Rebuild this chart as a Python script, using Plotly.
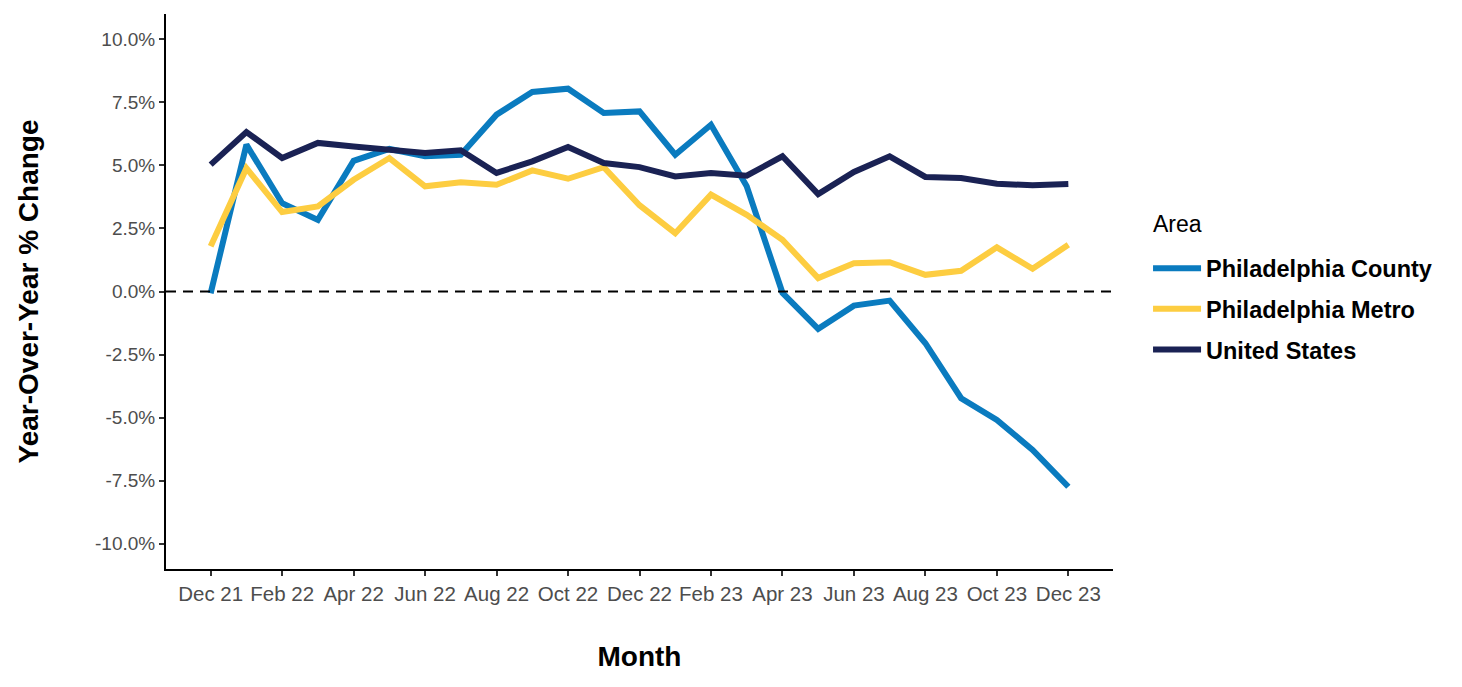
import plotly.graph_objects as go

months = ["Dec 21", "Jan 22", "Feb 22", "Mar 22", "Apr 22", "May 22", "Jun 22", "Jul 22",
          "Aug 22", "Sep 22", "Oct 22", "Nov 22", "Dec 22", "Jan 23", "Feb 23", "Mar 23",
          "Apr 23", "May 23", "Jun 23", "Jul 23", "Aug 23", "Sep 23", "Oct 23", "Nov 23", "Dec 23"]

philly_county = [-0.07, 5.82, 3.50, 2.84, 5.18, 5.65, 5.36, 5.42, 7.01, 7.91, 8.04, 7.08, 7.14,
                 5.42, 6.61, 4.17, -0.05, -1.48, -0.56, -0.36, -2.05, -4.23, -5.09, -6.28, -7.74]
philly_metro = [1.79, 4.89, 3.15, 3.37, 4.43, 5.29, 4.17, 4.33, 4.23, 4.80, 4.47, 4.93, 3.42,
                2.31, 3.84, 3.04, 2.05, 0.53, 1.12, 1.16, 0.66, 0.82, 1.75, 0.90, 1.85]
united_states = [5.03, 6.32, 5.29, 5.89, 5.75, 5.62, 5.49, 5.60, 4.70, 5.16, 5.73, 5.09, 4.93,
                 4.56, 4.70, 4.59, 5.36, 3.86, 4.74, 5.36, 4.54, 4.50, 4.27, 4.21, 4.26]

series_names = ["Philadelphia County", "Philadelphia Metro", "United States"]
series_values = [philly_county, philly_metro, united_states]
series_colors = ["#0a7bbf", "#fdcd41", "#1a2254"]

y_ticks = [-10, -7.5, -5, -2.5, 0, 2.5, 5, 7.5, 10]
y_tick_labels = ["-10.0%", "-7.5%", "-5.0%", "-2.5%", "0.0%", "2.5%", "5.0%", "7.5%", "10.0%"]

x_idx = list(range(len(months)))

fig = go.Figure()
for i, (name, vals, col) in enumerate(zip(series_names, series_values, series_colors)):
    fig.add_trace(go.Scatter(
        x=x_idx, y=vals, mode="lines", name=name, legendgroup=f"g{i}",
        line=dict(color=col, width=6),
    ))

fig.add_hline(y=0, line=dict(color="black", width=2, dash="10px,7px"))

fig.add_annotation(
    text="Area", xref="paper", yref="paper", x=1.04, y=0.621,
    xanchor="left", yanchor="middle", showarrow=False,
    font=dict(size=23, color="black"),
)

fig.update_layout(
    width=1462, height=687,
    paper_bgcolor="white", plot_bgcolor="white",
    margin=dict(l=158, r=357, t=6, b=126),
    font=dict(family="Liberation Sans, Arial, sans-serif", color="black"),
    legend=dict(
        font=dict(size=23.5, color="black", weight="bold"),
        x=1.037, xanchor="left", y=0.581, yanchor="top",
        tracegroupgap=7, itemwidth=48,
        bgcolor="rgba(0,0,0,0)",
    ),
    showlegend=True,
)

fig.update_xaxes(
    range=[-1.25, 25.25],
    tickvals=x_idx[::2], ticktext=months[::2],
    showgrid=False, zeroline=False,
    showline=True, linecolor="black", linewidth=2,
    ticks="outside", ticklen=5, tickwidth=1.5, tickcolor="#333333",
    tickfont=dict(size=20.5, color="#4d4d4d"),
    title=dict(text="Month", font=dict(size=28, color="black", weight="bold"), standoff=43),
)
fig.update_yaxes(
    range=[-11, 11],
    tickvals=y_ticks, ticktext=y_tick_labels,
    showgrid=False, zeroline=False,
    showline=True, linecolor="black", linewidth=2,
    ticks="outside", ticklen=5, tickwidth=1.5, tickcolor="#333333",
    tickfont=dict(size=19, color="#4d4d4d"),
    title=dict(text="Year-Over-Year % Change", font=dict(size=28, color="black", weight="bold"), standoff=48),
)

fig.write_html("out.html")
